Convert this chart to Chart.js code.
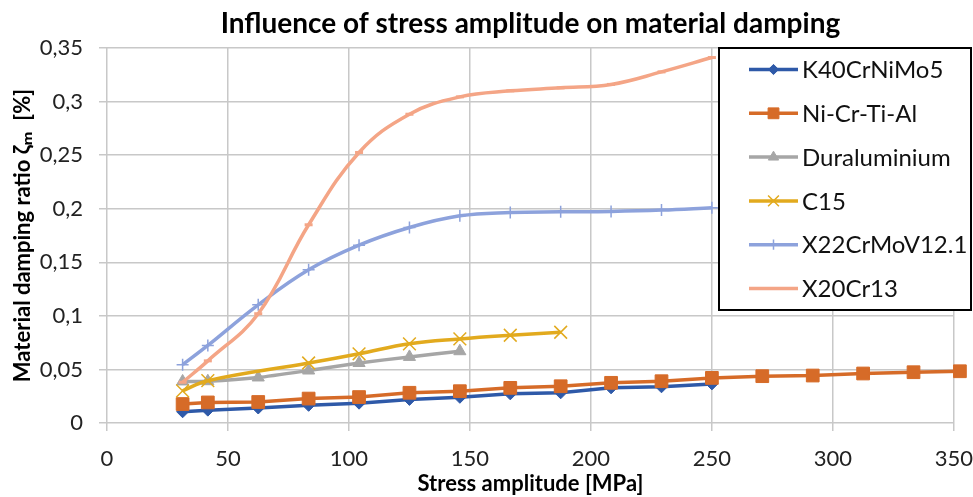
<!DOCTYPE html>
<html>
<head>
<meta charset="utf-8">
<script src="https://cdn.jsdelivr.net/npm/chart.js@4.4.0/dist/chart.umd.min.js"></script>
<style>
  html, body { margin: 0; padding: 0; background: #fff; }
  #wrap { width: 973px; height: 497px; position: relative; }
</style>
</head>
<body>
<div id="wrap"><canvas id="dampingChart"></canvas></div>
<script>
// stress amplitude [MPa] / damping ratio [%]
const xK40 = [31.25, 41.67, 62.5, 83.33, 104.17, 125, 145.83, 166.67, 187.5, 208.33, 229.17, 250];
const yK40 = [0.0105, 0.012, 0.014, 0.0165, 0.0185, 0.022, 0.024, 0.0272, 0.0282, 0.0328, 0.0338, 0.0365];

const xNiCr = [31.25, 41.67, 62.5, 83.33, 104.17, 125, 145.83, 166.67, 187.5, 208.33, 229.17, 250, 270.83, 291.67, 312.5, 333.33, 352.5];
const yNiCr = [0.0177, 0.0192, 0.0196, 0.0228, 0.0242, 0.0282, 0.0297, 0.0328, 0.0343, 0.0375, 0.039, 0.0421, 0.0437, 0.0443, 0.0462, 0.0474, 0.0483];

const xDural = [31.25, 41.67, 62.5, 83.33, 104.17, 125, 145.83];
const yDural = [0.0388, 0.039, 0.0425, 0.049, 0.056, 0.0617, 0.067];

const xC15 = [31.25, 41.67, 83.33, 104.17, 125, 145.83, 166.67, 187.5];
const yC15 = [0.030, 0.0395, 0.056, 0.0646, 0.0739, 0.0785, 0.0819, 0.0847];

const xX22 = [31.25, 41.67, 62.5, 83.33, 104.17, 125, 145.83, 166.67, 187.5, 208.33, 229.17, 250];
const yX22 = [0.0544, 0.0724, 0.1103, 0.143, 0.166, 0.1825, 0.1934, 0.1965, 0.1971, 0.1975, 0.1987, 0.2009];

const xX20 = [31.25, 41.67, 62.5, 83.33, 104.17, 125, 145.83, 166.67, 187.5, 208.33, 229.17, 250];
const yX20 = [0.038, 0.058, 0.102, 0.185, 0.2525, 0.2882, 0.3044, 0.310, 0.3128, 0.316, 0.3277, 0.3411];

const FONT = 'Lato, "Open Sans", "DejaVu Sans", sans-serif';

function toPoints(xs, ys) {
  return xs.map((x, i) => ({ x: x, y: ys[i] }));
}

function series(label, xs, ys, color, style, radius, markerWidth, tension, order) {
  return {
    label: label,
    data: toPoints(xs, ys),
    borderColor: color,
    backgroundColor: color,
    borderWidth: 3.5,
    pointStyle: style,
    pointRadius: radius,
    pointHoverRadius: radius,
    pointBackgroundColor: color,
    pointBorderColor: color,
    pointBorderWidth: markerWidth,
    tension: tension,
    fill: false,
    clip: false,
    order: order
  };
}

// legend box sitting on top of the plot, like the Excel one
const boxLegend = {
  id: 'boxLegend',
  afterDraw(chart) {
    const ctx = chart.ctx;
    const left = 719, top = 48, w = 252, h = 262;
    ctx.save();
    ctx.fillStyle = '#fff';
    ctx.fillRect(left, top, w, h);
    ctx.lineWidth = 2;
    ctx.strokeStyle = '#000';
    ctx.strokeRect(left, top, w, h);
    chart.data.datasets.forEach((ds, i) => {
      const y = 69.5 + i * 43.8;
      ctx.strokeStyle = ds.borderColor;
      ctx.lineWidth = ds.borderWidth;
      ctx.beginPath();
      ctx.moveTo(749, y);
      ctx.lineTo(798, y);
      ctx.stroke();
      if (Chart.helpers && Chart.helpers.drawPoint) {
        ctx.fillStyle = ds.pointBackgroundColor;
        ctx.strokeStyle = ds.pointBorderColor;
        ctx.lineWidth = ds.pointBorderWidth;
        Chart.helpers.drawPoint(ctx, {
          pointStyle: ds.pointStyle,
          radius: ds.pointRadius * 0.85,
          rotation: 0,
          borderWidth: ds.pointBorderWidth
        }, 773.5, y);
      }
      ctx.fillStyle = '#111';
      ctx.font = '24px ' + FONT;
      ctx.textBaseline = 'middle';
      ctx.textAlign = 'left';
      ctx.fillText(ds.label, 802, y + 1);
    });
    ctx.restore();
  }
};

new Chart(document.getElementById('dampingChart'), {
  type: 'scatter',
  data: {
    datasets: [
      series('K40CrNiMo5', xK40, yK40, '#2E59A8', 'rectRot', 6, 1, 0, 6),
      series('Ni-Cr-Ti-Al', xNiCr, yNiCr, '#D66B28', 'rect', 9, 1, 0, 5),
      series('Duraluminium', xDural, yDural, '#A6A6A6', 'triangle', 7, 1, 0.2, 4),
      series('C15', xC15, yC15, '#E2AA1E', 'crossRot', 9, 1.5, 0.4, 3),
      series('X22CrMoV12.1', xX22, yX22, '#8DA2DC', 'cross', 6, 1.5, 0.4, 2),
      series('X20Cr13', xX20, yX20, '#F4A586', 'line', 4, 3, 0.4, 1)
    ]
  },
  options: {
    responsive: true,
    maintainAspectRatio: false,
    animation: false,
    showLine: true,
    layout: { padding: { top: 0, left: 10, right: 0, bottom: 0 } },
    plugins: {
      legend: { display: false },
      tooltip: { enabled: false },
      title: {
        display: true,
        fullSize: false,
        text: 'Influence of stress amplitude on material damping',
        color: '#000',
        font: { family: FONT, size: 28, weight: 'bold' },
        padding: { top: 7, bottom: 7.4 }
      }
    },
    scales: {
      x: {
        type: 'linear',
        min: 0,
        max: 350,
        afterFit: s => { s.height = 74; },
        ticks: {
          stepSize: 50,
          color: '#222',
          padding: 0,
          font: { family: FONT, size: 22, lineHeight: 2.5 }
        },
        grid: { color: '#c8c8c8', lineWidth: 1.5, tickLength: 8 },
        border: { display: false },
        title: {
          display: true,
          text: 'Stress amplitude [MPa]',
          color: '#000',
          font: { family: FONT, size: 22, weight: 'bold' },
          padding: { top: 0, bottom: 0 }
        }
      },
      y: {
        min: 0,
        max: 0.35,
        afterFit: s => { s.width = 97; },
        ticks: {
          stepSize: 0.05,
          color: '#222',
          padding: 16,
          font: { family: FONT, size: 22 },
          callback: v => String(+v.toFixed(2)).replace('.', ',')
        },
        grid: { color: '#c8c8c8', lineWidth: 1.5, tickLength: 8 },
        border: { display: false },
        title: {
          display: true,
          text: 'Material damping ratio ζₘ  [%]',
          color: '#000',
          font: { family: FONT, size: 22, weight: 'bold' },
          padding: { top: 0, bottom: 0 }
        }
      }
    }
  },
  plugins: [boxLegend]
});
</script>
</body>
</html>
